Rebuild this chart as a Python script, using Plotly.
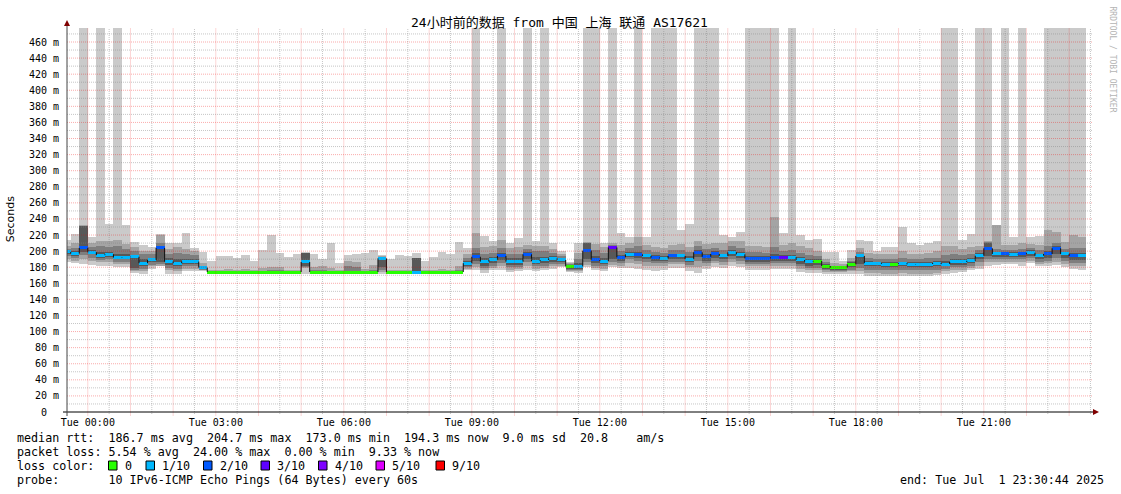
from datetime import datetime, timedelta
import plotly.graph_objects as go

# ---------------- data (12-minute bins, values in ms) ----------------
first_bin = datetime(2025, 6, 30, 23, 24, 0)
bin_minutes = 12
t_start = datetime(2025, 6, 30, 23, 30, 44)
t_end = datetime(2025, 7, 1, 23, 30, 44)

median = [
    199, 197, 204, 198.5, 195, 196, 192, 192.5, 193, 185,
    189, 204, 187, 185, 187, 187, 179.5, 174, 174, 174,
    174, 174, 174, 174, 174, 174, 174, 174, 186.5, 174,
    174, 174, 174, 174, 174, 174, 174, 191, 174, 174,
    174, 174, 174, 174, 174, 174, 174, 185, 193, 187,
    189, 194, 187, 187, 196, 187.7, 189, 191, 189, 181,
    181, 200.6, 189, 187.7, 204.5, 192.3, 196, 196, 194, 192,
    191, 194, 194, 190, 198.5, 193, 196.5, 194, 198.5, 196,
    191, 191, 191, 192.3, 192.3, 192.3, 189, 187, 187.7, 181.5,
    179.4, 179.4, 183.6, 194, 185, 185, 184, 184, 185, 183.6,
    184, 184, 185.2, 184, 186.5, 186.5, 188, 194.3, 203.5, 196.5,
    196.5, 196, 196.5, 198, 194.3, 196.5, 203.5, 196.5, 194, 194,
]

# lost pings (of 10) colour bucket per bin
loss = [
    1, 1, 2, 1, 1, 1, 1, 1, 1, 1,
    1, 2, 1, 1, 1, 1, 1, 0, 0, 0,
    0, 0, 0, 0, 0, 0, 0, 0, 1, 0,
    0, 0, 0, 0, 0, 0, 0, 1, 0, 0,
    0, 1, 0, 0, 0, 0, 0, 1, 2, 1,
    1, 2, 1, 1, 2, 1, 1, 1, 1, 0,
    1, 2, 2, 1, 3, 2, 1, 2, 1, 2,
    1, 2, 1, 1, 2, 2, 2, 1, 1, 1,
    2, 2, 2, 2, 3, 1, 1, 1, 0, 0,
    0, 0, 0, 1, 1, 1, 1, 0, 1, 1,
    1, 1, 1, 1, 1, 1, 1, 1, 2, 1,
    2, 1, 2, 1, 1, 2, 2, 1, 2, 1,
]

# sorted ping percentiles (smoke)
p10 = [
    214, 221, 500, 218, 500, 233.7, 500, 232.5, 211, 207.6,
    204.7, 221, 209.7, 210.5, 223, 203.5, 199.3, 188, 194, 194,
    192, 195, 188, 201, 220, 198, 193, 197, 198.5, 196.5,
    190, 209.7, 184.8, 195, 196.5, 198, 201.4, 195, 190, 195,
    194, 198, 187.7, 192.3, 199.3, 196.5, 211.8, 203.5, 500, 219,
    213, 500, 210.5, 216, 500, 212.6, 500, 209.7, 200, 187,
    210.5, 500, 500, 210.5, 500, 222, 217, 500, 218, 500,
    500, 500, 226, 233.7, 500, 500, 500, 220, 218, 224,
    500, 500, 500, 500, 222, 500, 220, 214, 215, 199,
    199, 188, 202, 214, 212.6, 200, 205.6, 205.6, 230, 209.7,
    207.6, 209.7, 212, 500, 500, 214, 221, 500, 500, 232.5,
    500, 217, 500, 217, 219, 500, 500, 500, 500, 500,
]
p9 = [
    207, 210, 232, 210, 213, 213, 214, 209, 205, 200,
    200, 220, 203, 205, 203, 200, 185, 177, 176, 178,
    177, 178, 176, 179, 180, 180, 176, 177, 198, 180,
    181, 179, 176, 188, 186, 178, 183, 193.5, 176, 177,
    176, 192, 176, 177, 178, 177, 182, 196, 222, 205,
    206, 214, 204, 205, 207.6, 207, 207, 203, 196, 185,
    198, 211, 208.5, 205, 210, 208, 210.5, 218, 208, 205,
    204, 208, 209, 205, 212, 209, 210, 210, 212, 212,
    206, 206, 205, 243, 208, 210, 206, 204, 200, 190,
    185, 184, 192, 204, 198, 196, 197, 196, 200, 197,
    197, 198, 200, 206, 206, 203, 205, 207, 212, 232,
    208, 208, 210, 209, 208, 226, 224, 211, 220, 218,
]
p8 = [
    203, 204, 231.5, 205, 206, 205, 206, 203, 200, 196,
    196, 210, 197, 198, 197, 195, 182, 175, 175, 175.5,
    175, 175.5, 175, 175.5, 176, 176, 175, 175, 198, 176,
    176, 175.5, 175, 181, 180, 175, 177, 193, 175, 175,
    175, 191.5, 175, 175, 175.5, 175, 177, 191, 203.5, 197,
    198, 204, 196, 197, 203, 200, 200, 198, 194, 184,
    190, 210.5, 202, 198, 208, 200, 203.5, 206, 202, 199,
    198, 201, 202, 199, 206, 203, 204, 202, 206, 204,
    199, 199, 198, 205, 200, 201, 198, 195, 194, 186,
    182, 182, 188, 199, 191, 190, 190, 190, 191, 190,
    190, 191, 192, 195, 196, 195, 196, 201, 211, 203,
    202, 202, 203, 204, 201, 206, 210, 203, 204, 204,
]
p7 = [
    201, 200, 231, 201, 199, 199, 197, 197, 195, 190,
    192, 206, 191, 190, 190, 190, 181, 174.5, 174.5, 174.5,
    174.5, 174.5, 174.5, 174.5, 174.5, 174.5, 174.5, 174.5, 197.5, 174.5,
    174.5, 174.5, 174.5, 174.5, 174.5, 174.5, 174.5, 192.5, 174.5, 174.5,
    174.5, 191, 174.5, 174.5, 174.5, 174.5, 174.5, 188, 198, 192,
    193, 198, 191, 191, 199, 193, 193, 194, 192, 183,
    185, 210, 194, 192, 206, 195, 199, 199, 197, 195,
    194, 197, 197, 194, 202, 197, 200, 197, 202, 199,
    194, 194, 194, 196, 195, 195, 193, 190, 190, 184,
    181, 181, 186, 196, 188, 187, 186, 186, 187, 186,
    186, 186, 188, 188, 190, 190, 191, 198, 210.5, 199,
    199, 199, 199, 201, 197, 200, 206, 199, 198, 198,
]
p4 = [
    197, 194, 199, 196, 192, 193, 190, 190, 179, 181,
    186, 186, 183, 181, 184, 184, 178, 173.8, 173.8, 173.8,
    173.8, 173.8, 173.8, 173.8, 173.8, 173.8, 173.8, 173.8, 181, 173.8,
    173.8, 173.8, 173.8, 173.8, 173.8, 173.8, 173.8, 180, 173.8, 173.8,
    173.8, 173.8, 173.8, 173.8, 173.8, 173.8, 173.8, 182, 188, 182,
    185, 189, 183, 183, 190, 184, 185, 187, 186, 178,
    178, 190, 185, 184, 190, 188, 193, 192, 190, 188,
    188, 190, 190, 186, 193, 188, 192, 190, 194, 192,
    187, 187, 187, 188, 188, 188, 184, 182, 183, 178,
    177, 177, 180, 184, 181, 181, 180, 180, 181, 180,
    180, 180, 181, 181, 183, 183, 185, 190, 194, 193,
    193, 193, 193, 194, 190, 192, 196, 192, 189, 189,
]
p3 = [
    194, 191, 195, 192, 189, 190, 187, 187, 177, 178,
    183, 184, 179, 178, 181, 181, 177, 173.5, 173.5, 173.5,
    173.5, 173.5, 173.5, 173.5, 173.5, 173.5, 173.5, 173.5, 180.5, 173.5,
    173.5, 173.5, 173.5, 173.5, 173.5, 173.5, 173.5, 176, 173.5, 173.5,
    173.5, 173.5, 173.5, 173.5, 173.5, 173.5, 173.5, 180, 184, 179,
    182, 185, 180, 180, 186, 181, 182, 184, 184, 176,
    176, 186, 182, 181, 186, 185, 190, 188, 186, 185,
    185, 187, 187, 183, 188, 185, 188, 186, 190, 188,
    184, 184, 184, 185, 185, 185, 181, 179, 179, 176,
    175.5, 175.5, 177, 179, 177, 177, 176, 176, 177, 176,
    176, 176, 177, 178, 180, 180, 182, 186, 190, 190,
    190, 190, 190, 191, 187, 188, 191, 188, 185, 185,
]
p2 = [
    190, 188, 190, 188, 186, 186, 184, 184, 175, 175,
    181, 182, 176, 175, 178, 178, 176, 173, 173, 173,
    173, 173, 173, 173, 173, 173, 173, 173, 179.5, 173,
    173, 173, 173, 173, 173, 173, 173, 174.5, 173, 173,
    173, 173, 173, 173, 173, 173, 173, 178, 180, 176,
    179, 181, 177, 178, 182, 178, 179, 181, 182, 175,
    175, 183, 179, 178, 183, 182, 185, 184, 182, 181,
    182, 184, 184, 180, 180, 182, 185, 183, 186, 184,
    181, 181, 181, 182, 182, 182, 178, 176, 176, 174,
    174, 174, 175, 175, 173, 173, 172, 172, 173, 172,
    172, 172, 173, 175, 177, 177, 179, 182, 186, 187,
    187, 187, 186, 188, 184, 185, 187, 184, 182, 181,
]
p1 = [
    186, 185, 184, 183, 182, 182, 180, 180, 173, 172,
    178, 181, 172, 172, 175, 175, 175, 172.5, 172.5, 172.5,
    172.5, 172.5, 172.5, 172.5, 172.5, 172.5, 172.5, 172.5, 172, 172.5,
    172.5, 172.5, 172.5, 172.5, 172.5, 172.5, 172.5, 172, 172.5, 172.5,
    172.5, 172.5, 172.5, 172.5, 172.5, 172.5, 172.5, 176, 176, 173,
    176, 177, 174, 175, 177, 175, 176, 178, 180, 174,
    173, 180, 176, 175, 180, 179, 178.6, 178, 176, 175,
    177, 179, 179, 175, 172.4, 178, 180, 179, 182, 180,
    177, 177, 177, 178, 178, 178, 174, 173, 173, 172,
    172, 172, 172, 171, 169, 169, 168.5, 168.5, 169, 168.5,
    168.5, 169, 170, 172, 173, 174, 176, 178, 182, 183,
    184, 184, 182, 185, 181, 182, 183, 180, 178, 177,
]

loss_labels = ["0", "1/10", "2/10", "3/10", "4/10", "5/10", "9/10"]
loss_colors = ["#26ff00", "#00b8ff", "#0059ff", "#5e00ff", "#7e00ff", "#dd00ff", "#ff0000"]

y_ticks = list(range(0, 461, 20))
y_tick_labels = [f"{v} m" if v else "0\u00a0\u00a0" for v in y_ticks]
x_tick_hours = [0, 3, 6, 9, 12, 15, 18, 21]
x_tick_labels = ["Tue 00:00", "Tue 03:00", "Tue 06:00", "Tue 09:00",
                 "Tue 12:00", "Tue 15:00", "Tue 18:00", "Tue 21:00"]

title_text = "24小时前的数据 from 中国 上海 联通 AS17621"
legend_lines = [
    "median rtt:  186.7 ms avg  204.7 ms max  173.0 ms min  194.3 ms now  9.0 ms sd  20.8    am/s",
    "packet loss: 5.54 % avg  24.00 % max  0.00 % min  9.33 % now",
    "loss color:",
    "probe:       10 IPv6-ICMP Echo Pings (64 Bytes) every 60s",
]
end_text = "end: Tue Jul  1 23:30:44 2025"

# ---------------- layout geometry (pixels) ----------------
W, H = 1121, 494
PL, PR, PT, PB = 67, 1091, 28, 412
Y_MAX = 477.4
MONO = "DejaVu Sans Mono"
LEG_SIZE = 11.7


def px(x):
    return (x - PL) / (PR - PL)


def py(y):
    return (PB - y) / (PB - PT)


def nb(s):
    return s.replace(" ", "\u00a0")


step = timedelta(minutes=bin_minutes)
n = len(median)
lefts = [first_bin + i * step for i in range(n)]
centers = [l + step / 2 for l in lefts]
width_ms = step.total_seconds() * 1000

fig = go.Figure()

# smoke layers
for lo, hi, col in [(p1, p10, "#cacaca"), (p2, p9, "#a4a4a4"),
                    (p3, p8, "#7e7e7e"), (p4, p7, "#585858")]:
    fig.add_trace(go.Bar(
        x=centers, base=lo, y=[h - l for l, h in zip(lo, hi)], width=width_ms,
        marker=dict(color=col, line=dict(width=0)), hoverinfo="skip", showlegend=False))

# median band coloured by loss (3 px high)
half = 1.5 * Y_MAX / (PB - PT)
for lvl, col in enumerate(loss_colors):
    idx = [i for i in range(n) if loss[i] == lvl]
    if not idx:
        continue
    fig.add_trace(go.Bar(
        x=[centers[i] for i in idx], base=[median[i] - half for i in idx],
        y=[2 * half] * len(idx), width=width_ms,
        marker=dict(color=col, line=dict(width=0)), hoverinfo="skip", showlegend=False))

# vertical transitions of the median line
vx, vy = [], []
for k in range(1, n):
    if median[k] != median[k - 1]:
        vx += [lefts[k], lefts[k], None]
        vy += [median[k - 1], median[k], None]
fig.add_trace(go.Scatter(x=vx, y=vy, mode="lines", line=dict(color="#111111", width=1),
                         hoverinfo="skip", showlegend=False))

shapes = []
# grid (drawn above the smoke, like rrdtool)
day = datetime(2025, 7, 1)
for h in range(24):
    t = day + timedelta(hours=h, minutes=30)
    shapes.append(dict(type="line", xref="x", yref="paper", x0=t, x1=t, y0=-2 / 384, y1=1,
                       line=dict(color="rgba(128,128,128,0.45)", width=1, dash="1px,1px"), layer="above"))
for h in range(24):
    t = day + timedelta(hours=h)
    shapes.append(dict(type="line", xref="x", yref="paper", x0=t, x1=t, y0=-3.5 / 384, y1=1,
                       line=dict(color="rgba(240,0,0,0.33)", width=1, dash="1px,1px"), layer="above"))
for v in range(10, 471, 20):
    shapes.append(dict(type="line", xref="paper", yref="y", x0=0, x1=px(1092), y0=v, y1=v,
                       line=dict(color="rgba(128,128,128,0.45)", width=1, dash="1px,1px"), layer="above"))
for v in range(20, 461, 20):
    shapes.append(dict(type="line", xref="paper", yref="y", x0=0, x1=px(1092), y0=v, y1=v,
                       line=dict(color="rgba(240,0,0,0.33)", width=1, dash="1px,1px"), layer="above"))

# axes with arrows
shapes.append(dict(type="line", xref="paper", yref="paper", x0=px(63), x1=px(1094), y0=0, y1=0,
                   line=dict(color="#000000", width=1), layer="above"))
shapes.append(dict(type="line", xref="paper", yref="paper", x0=0, x1=0, y0=py(416), y1=py(24),
                   line=dict(color="#444444", width=1), layer="above"))
shapes.append(dict(type="path", xref="paper", yref="paper",
                   path=f"M {px(67)},{py(20)} L {px(64)},{py(26)} L {px(70)},{py(26)} Z",
                   fillcolor="#7f0000", line=dict(width=0), layer="above"))
shapes.append(dict(type="path", xref="paper", yref="paper",
                   path=f"M {px(1099)},{py(412)} L {px(1093)},{py(409)} L {px(1093)},{py(415)} Z",
                   fillcolor="#7f0000", line=dict(width=0), layer="above"))

annotations = []
annotations.append(dict(text="Seconds", xref="paper", yref="paper", x=px(10.8), y=py(219.5),
                        textangle=-90, showarrow=False, xanchor="center", yanchor="middle",
                        font=dict(family="DejaVu Sans", size=11, color="#000")))
annotations.append(dict(text=nb("RRDTOOL / TOBI OETIKER"), xref="paper", yref="paper",
                        x=px(1111.5), y=py(59), textangle=90, showarrow=False,
                        xanchor="center", yanchor="middle",
                        font=dict(family=MONO, size=8, color="#b4b4b4")))
legend_y = [438.3, 452.3, 466.2, 480.2]
for txt, yy in zip(legend_lines, legend_y):
    annotations.append(dict(text=nb(txt), xref="paper", yref="paper", x=px(15), y=py(yy),
                            showarrow=False, xanchor="left", yanchor="middle",
                            font=dict(family=MONO, size=LEG_SIZE, color="#000")))
annotations.append(dict(text=nb(end_text), xref="paper", yref="paper", x=px(1106), y=py(480.2),
                        showarrow=False, xanchor="right", yanchor="middle",
                        font=dict(family=MONO, size=LEG_SIZE, color="#000")))

box_x = [108.5, 146.0, 203.5, 261.0, 318.5, 376.0, 436.0]
for bx, lab, col in zip(box_x, loss_labels, loss_colors):
    shapes.append(dict(type="rect", xref="paper", yref="paper",
                       x0=px(bx), x1=px(bx + 8.5), y0=py(470), y1=py(461),
                       fillcolor=col, line=dict(color="#000", width=1), layer="above"))
    annotations.append(dict(text=nb(lab), xref="paper", yref="paper", x=px(bx + 14), y=py(466.2),
                            showarrow=False, xanchor="left", yanchor="middle",
                            font=dict(family=MONO, size=LEG_SIZE, color="#000")))

fig.update_layout(
    width=W, height=H,
    margin=dict(l=PL, r=W - PR, t=PT, b=H - PB, pad=0),
    paper_bgcolor="#ffffff", plot_bgcolor="#ffffff",
    barmode="overlay", bargap=0,
    showlegend=False,
    title=dict(text=title_text, x=559.5 / W, xref="container", xanchor="center",
               y=1 - 22 / H, yref="container", yanchor="middle",
               font=dict(family=MONO + ", Noto Sans CJK SC", size=13, color="#000")),
    xaxis=dict(type="date", range=[t_start, t_end], showgrid=False, zeroline=False,
               showline=False, ticks="", automargin=False,
               tickvals=[day + timedelta(hours=h) for h in x_tick_hours],
               ticktext=x_tick_labels, ticklabelstandoff=3,
               tickfont=dict(family=MONO, size=10, color="#000")),
    yaxis=dict(range=[0, Y_MAX], showgrid=False, zeroline=False, showline=False,
               ticks="", automargin=False, tickvals=y_ticks, ticktext=y_tick_labels,
               ticklabelstandoff=7, tickfont=dict(family=MONO, size=10, color="#000")),
    shapes=shapes,
    annotations=annotations,
)

fig.write_html("out.html", config={"displayModeBar": False},
               post_script="document.body.style.margin='0';document.body.style.padding='0';")
